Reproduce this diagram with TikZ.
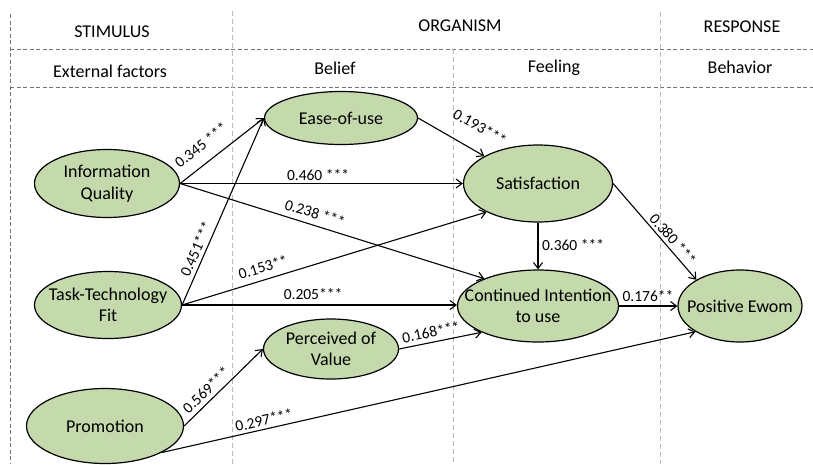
\documentclass[tikz,border=0pt]{standalone}
\usepackage{fontspec}
\setmainfont{Carlito}
\usetikzlibrary{arrows.meta,shapes.geometric}
\definecolor{nodegreen}{RGB}{196,217,172}
\begin{document}
\begin{tikzpicture}[x=1pt,y=-1pt,
  var/.style={ellipse,draw=black,line width=1.2pt,fill=nodegreen,inner sep=-30pt,align=center,font=\fontsize{18}{21.5}\selectfont},
  hdr/.style={font=\fontsize{18}{21.5}\selectfont,inner sep=0pt},
  lab/.style={font=\fontsize{15.5}{18}\selectfont,inner sep=0pt},
  arr/.style={line width=1.1pt,-{Straight Barb[length=6pt,width=9pt]}},
  hline/.style={draw=black!55,line width=0.8pt,dash pattern=on 4pt off 2.5pt},
  vline/.style={draw=black!28,line width=0.8pt,dash pattern=on 5pt off 3pt}]
\useasboundingbox (0,0) rectangle (813,464);

% grid
\draw[hline] (10,49) -- (813,49);
\draw[hline] (10,87) -- (813,87);
\draw[hline] (10,14) -- (10,464);
\draw[vline] (232,11) -- (232,464);
\draw[vline] (453,49) -- (453,464);
\draw[vline] (660,12) -- (660,464);

% headers
\node[hdr] (hs) at (112,32) {STIMULUS};
\node[hdr] (ho) at (460,26) {ORGANISM};
\node[hdr] (hr) at (742,27) {RESPONSE};
\node[hdr] (he) at (110,71) {External factors};
\node[hdr] (hb) at (335,68) {Belief};
\node[hdr] (hf) at (554,68) {Feeling};
\node[hdr] (hbe) at (740,67) {Behavior};

% variables
\node[var,minimum width=153pt,minimum height=53pt] (ease) at (341,118) {Ease-of-use};
\node[var,minimum width=145pt,minimum height=68pt] (iq) at (107,183.5) {Information\\Quality};
\node[var,minimum width=149pt,minimum height=77pt] (sat) at (538,183.5) {Satisfaction};
\node[var,minimum width=147pt,minimum height=67pt] (ttf) at (108,305) {Task-Technology\\Fit};
\node[var,minimum width=135pt,minimum height=60pt] (pv) at (331,349) {Perceived of\\Value};
\node[var,minimum width=157pt,minimum height=75pt] (promo) at (105,426) {Promotion};
\node[var,minimum width=161pt,minimum height=72pt] (ci) at (538,306) {Continued Intention\\to use};
\node[var,minimum width=124pt,minimum height=72pt] (ewom) at (740,306) {Positive Ewom};

% paths
\draw[arr] (iq.east) -- (ease.west);
\draw[arr] (iq.east) -- (iq.east -| sat.west);
\draw[arr] (iq.east) -- (ci.153);
\draw[arr] (ttf.east) -- (ease.west);
\draw[arr] (ttf.east) -- (sat.209);
\draw[arr] (ttf.east) -- (ttf.east -| ci.west);
\draw[arr] (ease.east) -- (sat.153);
\draw[arr] (sat.south) -- (ci.north);
\draw[arr] (sat.east) -- (ewom.149);
\draw[arr] (ci.east) -- (ci.east -| ewom.west);
\draw[arr] (pv.east) -- (ci.205);
\draw[arr] (promo.east) -- (pv.west);
\draw[arr] (promo.-25) -- (ewom.210);

% coefficients
\node[lab,rotate=38] (l1) at (201,145) {0.345 ***};
\node[lab] (l2) at (318,175) {0.460 ***};
\node[lab,rotate=-17] (l3) at (315,213) {0.238 ***};
\node[lab,rotate=66] (l4) at (196,249) {0.451***};
\node[lab,rotate=17] (l5) at (263,267) {0.153**};
\node[lab] (l6) at (313,294) {0.205***};
\node[lab,rotate=-30] (l7) at (480,127) {0.193***};
\node[lab] (l8) at (573,245) {0.360 ***};
\node[lab,rotate=-49] (l9) at (673,239) {0.380 ***};
\node[lab] (l10) at (648,296) {0.176**};
\node[lab,rotate=11.5] (l11) at (431,332) {0.168***};
\node[lab,rotate=44] (l12) at (206,390) {0.569***};
\node[lab,rotate=12.7] (l13) at (264,420) {0.297***};
\end{tikzpicture}
\end{document}
